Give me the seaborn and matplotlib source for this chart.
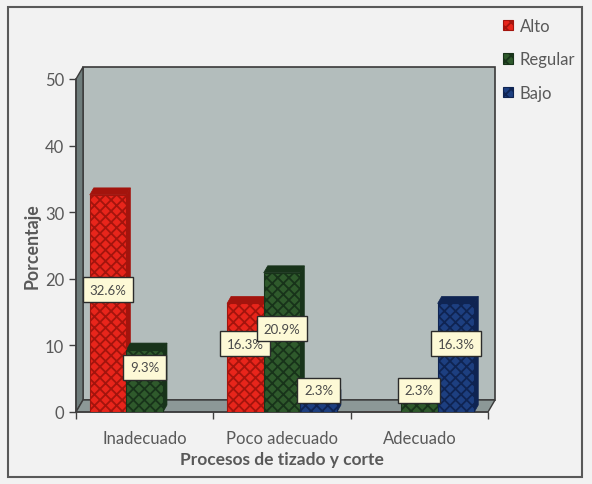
import matplotlib
matplotlib.use("Agg")
import matplotlib.pyplot as plt
from matplotlib.patches import Polygon, Rectangle
import pandas as pd
import seaborn as sns

categorias = ["Inadecuado", "Poco adecuado", "Adecuado"]
niveles = ["Alto", "Regular", "Bajo"]
alto = [32.6, 16.3, 0.0]
regular = [9.3, 20.9, 2.3]
bajo = [0.0, 2.3, 16.3]

colores = ["#e8251b", "#2f5a2c", "#1d3f80"]
oscuros = ["#a3140d", "#18331a", "#0f2452"]

df = pd.DataFrame({
    "Proceso": categorias * 3,
    "Nivel": [n for n in niveles for _ in categorias],
    "Porcentaje": alto + regular + bajo,
})

sns.set_style("white")
plt.rcParams["font.family"] = ["Lato", "DejaVu Sans"]
plt.rcParams["hatch.linewidth"] = 1.3

fig = plt.figure(figsize=(5.92, 4.85), dpi=100, facecolor="#f2f2f2")
ax = fig.add_axes([76 / 592, 72 / 485, 412 / 592, 333 / 485])
ax.set_facecolor("none")

# marco exterior
fig.patches.append(Rectangle((8 / 592, 7 / 485), 574 / 592, 470 / 485,
                             transform=fig.transFigure, fill=False,
                             ec="#595959", lw=1.5))

sns.barplot(data=df, x="Proceso", y="Porcentaje", hue="Nivel",
            order=categorias, hue_order=niveles, palette=colores,
            saturation=1, width=0.8, errorbar=None, legend=False, ax=ax)

# pared, lateral y piso (efecto 3D)
dx, dy = 7 / 412, 12 / 333
ax.add_patch(Rectangle((dx, dy), 1, 1, transform=ax.transAxes, fc="#b3bdbc",
                       ec="#3a3a3a", lw=1.2, clip_on=False, zorder=0.5))
ax.add_patch(Polygon([(0, 0), (0, 1), (dx, 1 + dy), (dx, dy)], transform=ax.transAxes,
                     fc="#6f7d7c", ec="#3a3a3a", lw=1, clip_on=False, zorder=0.6))
ax.add_patch(Polygon([(0, 0), (1, 0), (1 + dx, dy), (dx, dy)], transform=ax.transAxes,
                     fc="#8c9897", ec="#3a3a3a", lw=1, clip_on=False, zorder=0.6))

bdx, bdy = 4 / 137.3, 7 / 6.66
for cont, c, o in zip(ax.containers, colores, oscuros):
    for bar in cont:
        h = bar.get_height()
        x0, w = bar.get_x(), bar.get_width()
        bar.set_facecolor(c)
        bar.set_edgecolor(o)
        bar.set_hatch("xxx")
        bar.set_linewidth(0.8)
        bar.set_zorder(3)
        if h <= 0:
            continue
        ax.add_patch(Polygon([(x0, h), (x0 + w, h), (x0 + w + bdx, h + bdy), (x0 + bdx, h + bdy)],
                             fc=o, ec=o, lw=0.5, zorder=2.9, clip_on=False))
        ax.add_patch(Polygon([(x0 + w, 0), (x0 + w, h), (x0 + w + bdx, h + bdy), (x0 + w + bdx, bdy)],
                             fc=o, ec=o, lw=0.5, zorder=2.9, clip_on=False))
        ax.annotate(f"{h:.1f}%", (x0 + w / 2, h / 2), xytext=(0, 10),
                    textcoords="offset points", ha="center", va="center",
                    fontsize=9.5, color="#4a4a4a", zorder=6,
                    bbox=dict(boxstyle="square,pad=0.5", fc="#fdf9d6",
                              ec="#2b2b2b", lw=1))

ax.set_xlim(-0.5, 2.5)
ax.set_ylim(0, 50)
ax.set_yticks(range(0, 51, 10))
ax.set_xticks([-0.5, 0.5, 1.5, 2.5])
ax.set_xticklabels([])
ax.set_xticks([0, 1, 2], minor=True)
ax.set_xticklabels(categorias, minor=True)
ax.tick_params(axis="both", which="major", direction="out", length=5, width=1,
               color="#404040", labelcolor="#595959", labelsize=12, left=True, bottom=True)
ax.tick_params(axis="x", which="minor", length=0, pad=13, labelcolor="#595959", labelsize=12)
ax.set_xlabel("")
ax.set_ylabel("")
for s in ["top", "right"]:
    ax.spines[s].set_visible(False)
for s in ["left", "bottom"]:
    ax.spines[s].set_color("#404040")
    ax.spines[s].set_linewidth(1.2)

fig.text(32 / 592, (485 - 246) / 485, "Porcentaje", rotation=90, ha="center", va="center",
         fontsize=12.8, fontweight="bold", color="#595959")
fig.text(282 / 592, (485 - 460) / 485, "Procesos de tizado y corte", ha="center", va="center",
         fontsize=12.5, fontweight="bold", color="#595959")

handles = [Rectangle((0, 0), 1, 1, fc=c, ec=o, hatch="xxx", lw=0.8)
           for c, o in zip(colores, oscuros)]
fig.legend(handles, niveles, loc="upper left", bbox_to_anchor=(488 / 592, (485 - 4) / 485),
           frameon=False, handlelength=0.6, handleheight=0.6, handletextpad=0.4,
           labelspacing=1.05, fontsize=12, labelcolor="#595959")

fig.savefig("out.png", dpi=100, facecolor=fig.get_facecolor())
